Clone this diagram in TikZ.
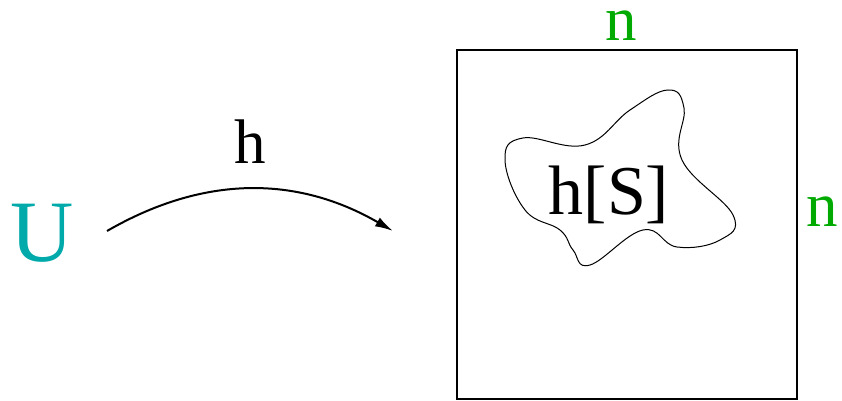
\documentclass[tikz,border=0pt]{standalone}
\usepackage{fontspec}
\setmainfont{Liberation Serif}
\usepackage{tikz}
\usetikzlibrary{arrows.meta,positioning,calc}
\definecolor{teal}{RGB}{0,170,170}
\definecolor{sidegreen}{RGB}{0,170,0}
\tikzset{
  symlabel/.style={
    inner sep=0pt, anchor=base, text=#1,
    font=\fontsize{31.5}{36}\selectfont
  },
  symlabel/.default=black,
  mapsto/.style={
    -{Latex[length=9pt,width=5pt]}, line width=1pt
  },
  gridbox/.style={
    draw, line width=1pt
  },
  imageblob/.style={
    draw, line width=0.5pt
  },
}

\begin{document}
\begin{tikzpicture}[x=0.5pt,y=-0.5pt]
  \useasboundingbox (0,0) rectangle (842,401);

  % Domain
  \node[symlabel=teal, font=\fontsize{43.8}{50}\selectfont] (dom) at (42,262) {U};

  % Map h
  \coordinate (mapstart) at (107,231);
  \coordinate (mapend) at (393,231);
  \draw[mapsto] (mapstart) to[bend left=30] node[symlabel, above=12.5pt] (map) {h} (mapend);

  % Grid n x n
  \draw[gridbox] (457,50) rectangle (797,399);
  \node[symlabel=sidegreen] (ntop) at (621,41) {n};
  \node[symlabel=sidegreen] (nside) at (822,227) {n};

  % Image of S
  \draw[imageblob] plot[smooth cycle, tension=0.7] coordinates {
    (505,160) (523,138) (585,145) (630,110) (668,90) (684,108)
    (682,160) (733,215) (720,240) (677,247) (643,230) (590,265)
    (573,250) (560,230) (525,210)};
  \node[symlabel, font=\fontsize{35}{40}\selectfont] (img) at (609,215) {h[S]};
\end{tikzpicture}
\end{document}
